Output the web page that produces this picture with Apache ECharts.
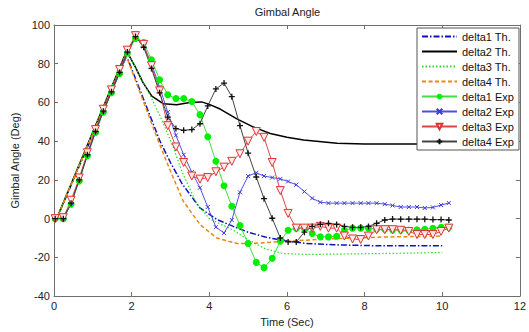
<!DOCTYPE html>
<html>
<head>
<meta charset="utf-8">
<script src="https://cdn.jsdelivr.net/npm/echarts@6/dist/echarts.min.js"></script>
<style>
html,body{margin:0;padding:0;background:#fff;}
#chart{width:529px;height:332px;}
</style>
</head>
<body>
<div id="chart"></div>
<script>
// ---- data ----
const xTicks = [0, 2, 4, 6, 8, 10, 12];
const yTicks = [-40, -20, 0, 20, 40, 60, 80, 100];

const delta1ThTime = [0, 0.07, 1.85, 1.9, 2.73, 3.0, 3.3, 3.76, 4.2, 4.62, 5.0, 5.44, 5.9, 6.5, 7.2, 8.3, 10];
const delta1ThVal  = [0, 0, 83, 82.5, 40, 29, 18, 5.5, -0.5, -4, -7, -9.5, -11.3, -12.8, -13.5, -14, -14];

const delta2ThTime = [0, 0.07, 1.87, 2.09, 2.3, 2.52, 2.82, 3.16, 3.5, 3.8, 4.0, 4.28, 4.71, 5.14, 5.57, 6.0, 6.43, 7.29, 8.0, 10];
const delta2ThVal  = [0, 0, 86.5, 78.5, 70, 63.3, 59.3, 58.8, 60, 60.3, 59, 56.6, 51.5, 47.3, 44, 42, 40.6, 38.9, 38.5, 38.5];

const delta3ThTime = [0, 0.07, 1.87, 2.09, 2.3, 2.47, 2.8, 3.07, 3.3, 3.67, 4.0, 4.62, 5.05, 5.44, 5.9, 6.5, 8.5, 10];
const delta3ThVal  = [0, 0, 86.5, 78.5, 70, 64, 50, 37, 24, 8, 0, -6, -11.5, -15.5, -18, -18.5, -18, -17.5];

const delta4ThTime = [0, 0.07, 1.83, 1.87, 2.65, 2.99, 3.33, 3.76, 4.19, 4.71, 5.1, 5.9, 7.0, 8.5, 10];
const delta4ThVal  = [0, 0, 83, 83.5, 42, 25, 9, -3, -10, -12.8, -12.8, -11.8, -10.5, -9.5, -9];

const expTime = [0.03, 0.24, 0.44, 0.65, 0.86, 1.07, 1.27, 1.48, 1.69, 1.89,
  2.1, 2.31, 2.51, 2.72, 2.93, 3.14, 3.34, 3.55, 3.76, 3.96,
  4.17, 4.38, 4.58, 4.79, 5.0, 5.21, 5.41, 5.62, 5.83, 6.03,
  6.24, 6.45, 6.65, 6.86, 7.07, 7.28, 7.48, 7.69, 7.9, 8.1,
  8.31, 8.52, 8.72, 8.93, 9.14, 9.35, 9.55, 9.76, 9.97, 10.17];

const delta1Exp = [0, 0, 7.5, 19.5, 32.5, 44.5, 55, 65, 75, 85.5,
  93, 91, 82, 71.7, 64, 62, 62, 60.5, 53.7, 42.3,
  29.6, 17, 6.4, -3.5, -12.8, -22.6, -25.3, -20.5, -11.6, -6,
  -4.9, -4.9, -7.7, -9.4, -9.4, -9.1, -6, -4.9, -4.9, -4.9,
  -5.5, -5.5, -5.8, -5.8, -6, -5.8, -5.5, -5, -4.5, -4.5];

const delta2Exp = [0, 0, 8, 20, 33, 45, 55.5, 65.5, 75.5, 86,
  94, 89, 80, 68, 55, 43, 33, 24, 16, 6,
  -4.4, -7.4, -0.7, 13.6, 22, 23.7, 22, 21.2, 20.5, 19.2,
  17.5, 14, 10.5, 8.5, 8, 8, 8, 8, 8, 8,
  8, 7.5, 6.8, 6, 6, 6, 5.5, 5.8, 7, 8.1];

const delta3Exp = [0, 0.5, 9.5, 21, 34, 46, 56.5, 66.5, 77, 87,
  94.5, 90, 79, 66, 48, 37, 29, 22, 20.4, 21.2,
  24.2, 26.6, 29.6, 33.5, 40, 45, 42, 29, 14.5, 2.7,
  -4.9, -4.9, -4.9, -4, -4.9, -4.9, -9, -10.5, -10.8, -9,
  -5.7, -5.7, -5.7, -6, -6.6, -8.2, -8.2, -8.2, -6.6, -4.9];

const delta4Exp = [0, 0, 8, 20, 33, 45, 55.5, 65.5, 75.5, 86,
  94, 88.5, 77.6, 65, 52.4, 46.5, 45.6, 46, 49, 58.2,
  67, 70, 63, 48, 33.8, 21.5, 10.3, 0.2, -10, -12,
  -12, -7, -4, -2.9, -2.4, -3, -4, -4.5, -4.5, -4,
  -2.4, -0.7, -0.2, -0.3, -0.3, -0.3, -0.3, -0.5, -0.5, -0.7];

const seriesNames = ['delta1 Th.', 'delta2 Th.', 'delta3 Th.', 'delta4 Th.',
  'delta1 Exp', 'delta2 Exp', 'delta3 Exp', 'delta4 Exp'];

// ---- build ----
function pairs(xs, ys) { return xs.map((x, i) => [x, ys[i]]); }
const FONT = 'Liberation Sans, Arial, sans-serif';
const AXIS_COLOR = '#6e6e6e';

const chart = echarts.init(document.getElementById('chart'), null, {renderer: 'svg'});

const baseX = {
  type: 'value', min: 0, max: 12, interval: 2,
  axisLine: {show: true, onZero: false, lineStyle: {color: AXIS_COLOR, width: 1}},
  axisTick: {show: true, inside: true, length: 4, lineStyle: {color: AXIS_COLOR}},
  splitLine: {show: false}
};
const baseY = {
  type: 'value', min: -40, max: 100, interval: 20,
  axisLine: {show: true, onZero: false, lineStyle: {color: AXIS_COLOR, width: 1}},
  axisTick: {show: true, inside: true, length: 4, lineStyle: {color: AXIS_COLOR}},
  splitLine: {show: false}
};

const legendData = seriesNames.map((n, i) => i < 4
  ? {name: n, itemStyle: {opacity: 0}}
  : {name: n});

const option = {
  animation: false,
  backgroundColor: '#fff',
  title: {
    text: 'Gimbal Angle', left: 287.5, top: 6, textAlign: 'center', padding: 0,
    textStyle: {fontFamily: FONT, fontSize: 11, fontWeight: 'normal', color: '#222'}
  },
  grid: {left: 54, right: 8, top: 25, bottom: 29.5, containLabel: false},
  xAxis: [
    Object.assign({}, baseX, {
      position: 'bottom',
      name: 'Time (Sec)', nameLocation: 'middle', nameGap: 15,
      nameTextStyle: {fontFamily: FONT, fontSize: 11, color: '#222'},
      axisLabel: {show: true, margin: 4, fontFamily: FONT, fontSize: 11, color: '#222',
        formatter: v => xTicks.includes(v) ? String(v) : ''}
    }),
    Object.assign({}, baseX, {position: 'top', axisLabel: {show: false}})
  ],
  yAxis: [
    Object.assign({}, baseY, {
      position: 'left',
      name: 'Gimbal Angle (Deg)', nameLocation: 'middle', nameGap: 25, nameRotate: 90,
      nameTextStyle: {fontFamily: FONT, fontSize: 11, color: '#222'},
      axisLabel: {show: true, margin: 4, fontFamily: FONT, fontSize: 11, color: '#222',
        formatter: v => yTicks.includes(v) ? String(v) : ''}
    }),
    Object.assign({}, baseY, {position: 'right', axisLabel: {show: false}})
  ],
  legend: {
    orient: 'vertical', left: 417, top: 28,
    padding: [3, 5, 3, 4], itemWidth: 35, itemHeight: 7, itemGap: 4,
    backgroundColor: '#fff', borderColor: '#555', borderWidth: 1, borderRadius: 0,
    textStyle: {fontFamily: FONT, fontSize: 11, lineHeight: 11, color: '#111'},
    data: legendData
  },
  series: [
    {name: seriesNames[0], type: 'line', data: pairs(delta1ThTime, delta1ThVal), symbol: 'none',
      color: '#1010c0', lineStyle: {color: '#1010c0', width: 1.5, type: [6, 2, 1.5, 2]}},
    {name: seriesNames[1], type: 'line', data: pairs(delta2ThTime, delta2ThVal), symbol: 'none',
      color: '#000', lineStyle: {color: '#000', width: 1.5, type: 'solid'}},
    {name: seriesNames[2], type: 'line', data: pairs(delta3ThTime, delta3ThVal), symbol: 'none',
      color: '#22dd22', lineStyle: {color: '#22dd22', width: 1.2, type: [1.5, 2]}},
    {name: seriesNames[3], type: 'line', data: pairs(delta4ThTime, delta4ThVal), symbol: 'none',
      color: '#e88a10', lineStyle: {color: '#e88a10', width: 1.5, type: [4, 2.5]}},
    {name: seriesNames[4], type: 'line', data: pairs(expTime, delta1Exp), symbol: 'circle', symbolSize: 7,
      color: '#00ee00', lineStyle: {color: '#44dd44', width: 1},
      itemStyle: {color: '#00f000', borderWidth: 0}},
    {name: seriesNames[5], type: 'line', data: pairs(expTime, delta2Exp),
      symbol: 'path://M0,0L10,10M0,10L10,0', symbolSize: 4,
      color: '#3a3ae0', lineStyle: {color: '#5050e0', width: 1},
      itemStyle: {color: '#3a3ae0', borderColor: '#3a3ae0', borderWidth: 1}},
    {name: seriesNames[6], type: 'line', data: pairs(expTime, delta3Exp),
      symbol: 'triangle', symbolRotate: 180, symbolSize: 8,
      color: '#dd3333', lineStyle: {color: '#dd4444', width: 1},
      itemStyle: {color: '#ffe8e8', borderColor: '#dd3333', borderWidth: 1}},
    {name: seriesNames[7], type: 'line', data: pairs(expTime, delta4Exp),
      symbol: 'path://M5,0L5,10M0,5L10,5', symbolSize: 6,
      color: '#222', lineStyle: {color: '#444', width: 1},
      itemStyle: {color: '#111', borderColor: '#111', borderWidth: 1.3}}
  ]
};
chart.setOption(option);
</script>
</body>
</html>
